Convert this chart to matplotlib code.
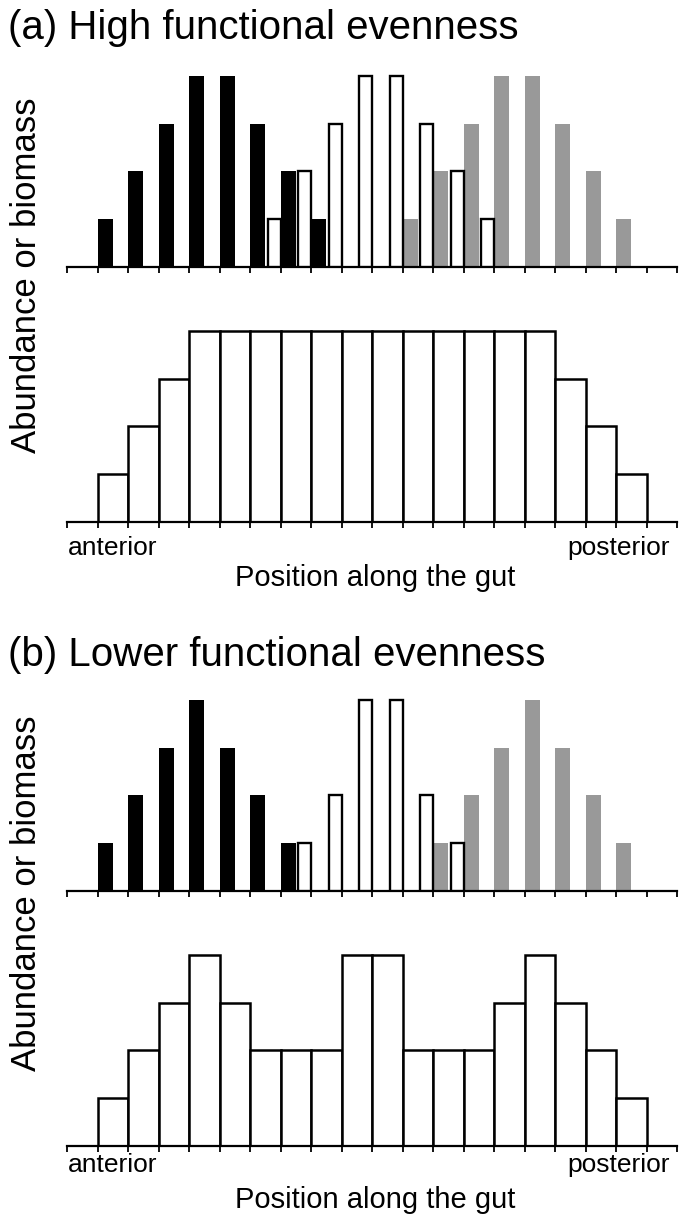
import matplotlib
matplotlib.use('Agg')
import matplotlib.pyplot as plt

plt.rcParams['font.family'] = ['Liberation Sans', 'DejaVu Sans']

# Positions are tick indices along the gut (0..20)
# (a) high functional evenness
black_a_pos = [1, 2, 3, 4, 5, 6, 7, 8]
black_a = [1, 2, 3, 4, 4, 3, 2, 1]
white_a_pos = [7, 8, 9, 10, 11, 12, 13, 14]
white_a = [1, 2, 3, 4, 4, 3, 2, 1]
gray_a_pos = [11, 12, 13, 14, 15, 16, 17, 18]
gray_a = [1, 2, 3, 4, 4, 3, 2, 1]
total_a_pos = list(range(1, 19))
total_a = [1, 2, 3, 4, 4, 4, 4, 4, 4, 4, 4, 4, 4, 4, 4, 3, 2, 1]

# (b) lower functional evenness
black_b_pos = [1, 2, 3, 4, 5, 6, 7]
black_b = [1, 2, 3, 4, 3, 2, 1]
white_b_pos = [8, 9, 10, 11, 12, 13]
white_b = [1, 2, 4, 4, 2, 1]
gray_b_pos = [12, 13, 14, 15, 16, 17, 18]
gray_b = [1, 2, 3, 4, 3, 2, 1]
total_b_pos = list(range(1, 19))
total_b = [1, 2, 3, 4, 3, 2, 2, 2, 4, 4, 2, 2, 2, 3, 4, 3, 2, 1]

W, H = 679, 1218
fig = plt.figure(figsize=(W / 100, H / 100), dpi=100)

UNIT = 47.8  # pixels per unit height
YMAX = 4.4


def make_axes(base_y, x0=67, x1=677):
    top = base_y - YMAX * UNIT
    ax = fig.add_axes([x0 / W, 1 - base_y / H, (x1 - x0) / W, (base_y - top) / H])
    ax.set_xlim(0, 20)
    ax.set_ylim(0, YMAX)
    for s in ['top', 'right', 'left']:
        ax.spines[s].set_visible(False)
    ax.spines['bottom'].set_linewidth(1.6)
    ax.set_xticks(range(21))
    ax.set_xticklabels([])
    ax.tick_params(axis='x', direction='out', length=4.5, width=1.3)
    ax.set_yticks([])
    return ax


def guild_panel(ax, bpos, bval, wpos, wval, gpos, gval):
    ax.bar(bpos, bval, width=0.5, align='edge', color='black', zorder=2)
    ax.bar(gpos, gval, width=0.5, align='edge', color='#999999', zorder=2)
    ax.bar(wpos, wval, width=-0.42, align='edge', color='white',
           edgecolor='black', linewidth=1.7, zorder=3)


def total_panel(ax, pos, val):
    ax.bar(pos, val, width=1.0, align='edge', color='white',
           edgecolor='black', linewidth=1.8, zorder=2)


def labels(y_ant, y_pos):
    fig.text(68 / W, 1 - y_ant / H, 'anterior', fontsize=19, ha='left', va='center')
    fig.text(670 / W, 1 - y_ant / H, 'posterior', fontsize=19, ha='right', va='center')
    fig.text(375 / W, 1 - y_pos / H, 'Position along the gut', fontsize=21,
             ha='center', va='center')


# (a)
fig.text(8 / W, 1 - 39 / H, '(a) High functional evenness', fontsize=29,
         ha='left', va='baseline')
ax1 = make_axes(267)
guild_panel(ax1, black_a_pos, black_a, white_a_pos, white_a, gray_a_pos, gray_a)
ax2 = make_axes(522)
total_panel(ax2, total_a_pos, total_a)
labels(548, 578)
fig.text(27 / W, 1 - 275 / H, 'Abundance or biomass', fontsize=25,
         rotation=90, ha='center', va='center')

# (b)
fig.text(8 / W, 1 - 666 / H, '(b) Lower functional evenness', fontsize=29,
         ha='left', va='baseline')
ax3 = make_axes(891)
guild_panel(ax3, black_b_pos, black_b, white_b_pos, white_b, gray_b_pos, gray_b)
ax4 = make_axes(1146)
total_panel(ax4, total_b_pos, total_b)
labels(1165, 1200)
fig.text(27 / W, 1 - 893 / H, 'Abundance or biomass', fontsize=25,
         rotation=90, ha='center', va='center')

fig.savefig('out.png', dpi=100)
